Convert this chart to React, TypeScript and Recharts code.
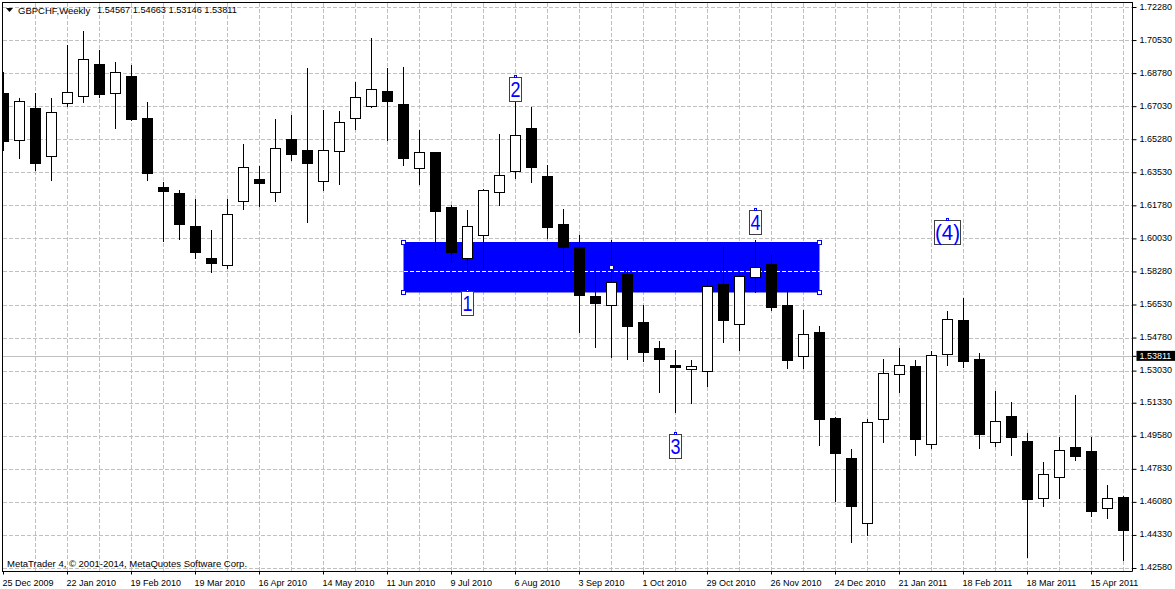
import { Bar, CartesianGrid, ComposedChart, ReferenceArea, ReferenceDot, ReferenceLine, XAxis, YAxis } from 'recharts'

// weekly GBPCHF candles, one entry per week
const opens = [
  1.6773, 1.6524, 1.6695, 1.6439, 1.6720, 1.6757, 1.6928, 1.6773, 1.6863, 1.6642,
  1.6277, 1.6245, 1.6070, 1.5901, 1.5862, 1.6201, 1.6319, 1.6249, 1.6529, 1.6473,
  1.6307, 1.6466, 1.6640, 1.6704, 1.6783, 1.6716, 1.6376, 1.6462, 1.6171, 1.5899,
  1.6021, 1.6249, 1.6360, 1.6587, 1.6335, 1.6081, 1.5959, 1.5700, 1.5650, 1.5816,
  1.5562, 1.5424, 1.5334, 1.5312, 1.5299, 1.5763, 1.5548, 1.5799, 1.5869, 1.5652,
  1.5378, 1.5509, 1.5054, 1.4842, 1.4496, 1.5047, 1.5285, 1.5329, 1.4915, 1.5391,
  1.5571, 1.5365, 1.4925, 1.5063, 1.4930, 1.4629, 1.4740, 1.4899, 1.4878, 1.4574,
  1.4634,
]
const highs = [
  1.6891, 1.6752, 1.6778, 1.6752, 1.7032, 1.7106, 1.7006, 1.6942, 1.6928, 1.6730,
  1.6307, 1.6265, 1.6217, 1.6053, 1.6217, 1.6508, 1.6392, 1.6640, 1.6662, 1.6910,
  1.6688, 1.6683, 1.6838, 1.7069, 1.6910, 1.6917, 1.6584, 1.6462, 1.6187, 1.6160,
  1.6270, 1.6563, 1.6854, 1.6705, 1.6397, 1.6164, 1.6028, 1.5852, 1.6001, 1.5852,
  1.5657, 1.5465, 1.5417, 1.5365, 1.5795, 1.5964, 1.5828, 1.6001, 1.5922, 1.5735,
  1.5631, 1.5545, 1.5063, 1.4895, 1.5052, 1.5371, 1.5430, 1.5366, 1.5414, 1.5625,
  1.5694, 1.5402, 1.5202, 1.5142, 1.4978, 1.4826, 1.4955, 1.5181, 1.4955, 1.4704,
  1.4646,
]
const lows = [
  1.6473, 1.6427, 1.6367, 1.6310, 1.6702, 1.6723, 1.6749, 1.6585, 1.6630, 1.6310,
  1.5989, 1.5998, 1.5897, 1.5823, 1.5848, 1.6157, 1.6176, 1.6203, 1.6416, 1.6088,
  1.6257, 1.6289, 1.6580, 1.6697, 1.6526, 1.6390, 1.6293, 1.5943, 1.5878, 1.5828,
  1.5846, 1.6178, 1.6324, 1.6300, 1.6007, 1.5828, 1.5509, 1.5426, 1.5373, 1.5366,
  1.5355, 1.5188, 1.5086, 1.5130, 1.5220, 1.5452, 1.5414, 1.5717, 1.5622, 1.5315,
  1.5315, 1.4911, 1.4611, 1.4397, 1.4434, 1.4923, 1.5190, 1.4858, 1.4891, 1.5331,
  1.5320, 1.4891, 1.4902, 1.4854, 1.4314, 1.4584, 1.4627, 1.4831, 1.4535, 1.4521,
  1.4302,
]
const closes = [
  1.6516, 1.6730, 1.6400, 1.6672, 1.6778, 1.6953, 1.6765, 1.6884, 1.6633, 1.6347,
  1.6255, 1.6077, 1.5929, 1.5871, 1.6132, 1.6381, 1.6298, 1.6482, 1.6448, 1.6400,
  1.6471, 1.6619, 1.6752, 1.6794, 1.6728, 1.6427, 1.6460, 1.6146, 1.5929, 1.6069,
  1.6259, 1.6339, 1.6550, 1.6379, 1.6061, 1.5955, 1.5701, 1.5659, 1.5772, 1.5537,
  1.5400, 1.5362, 1.5324, 1.5328, 1.5751, 1.5569, 1.5804, 1.5852, 1.5638, 1.5357,
  1.5497, 1.5045, 1.4865, 1.4584, 1.5031, 1.5290, 1.5333, 1.4939, 1.5386, 1.5576,
  1.5352, 1.4965, 1.5036, 1.4950, 1.4621, 1.4756, 1.4883, 1.4849, 1.4558, 1.4629,
  1.4457,
]

const dateLabels = [
  '25 Dec 2009', '22 Jan 2010', '19 Feb 2010', '19 Mar 2010', '16 Apr 2010', '14 May 2010',
  '11 Jun 2010', '9 Jul 2010', '6 Aug 2010', '3 Sep 2010', '1 Oct 2010', '29 Oct 2010',
  '26 Nov 2010', '24 Dec 2010', '21 Jan 2011', '18 Feb 2011', '18 Mar 2011', '15 Apr 2011',
]
const priceTicks = [
  1.7228, 1.7053, 1.6878, 1.6703, 1.6528, 1.6353, 1.6178, 1.6003, 1.5828,
  1.5653, 1.5478, 1.5303, 1.5133, 1.4958, 1.4783, 1.4608, 1.4433, 1.4258,
]
const lastPrice = 1.53811

// the drawn zone and the wave labels
const zoneWeeks = [25, 51]
const zonePrices = [1.5719, 1.5986]
const waveLabels = ['1', '2', '3', '4', '(4)']
const waveWeeks = [29, 32, 42, 47, 59]
const wavePrices = [1.5725, 1.6857, 1.4968, 1.6153, 1.61]

const candles = opens.map((open, i) => ({
  week: i,
  open,
  high: highs[i],
  low: lows[i],
  close: closes[i],
}))

const dateTicks = dateLabels.map((_, i) => i * 4)
const gridWeeks = Array.from({ length: 35 }, (_, i) => (i + 1) * 2)

const FONT = '"Liberation Sans", Arial, sans-serif'
const GRID = '#c0c0c0'
const snap = (v: number) => Math.round(v - 0.5) + 0.5

function Candle(props: any) {
  const { x, y, width, height, payload } = props
  const { open, high, low, close } = payload
  const cx = snap(x + width / 2)
  const perPrice = height / (high - low)
  const top = snap(y + (high - Math.max(open, close)) * perPrice)
  const bottom = snap(y + (high - Math.min(open, close)) * perPrice)
  const up = close >= open
  return (
    <g shapeRendering="crispEdges">
      <line x1={cx} x2={cx} y1={snap(y)} y2={snap(y + height)} stroke="#000" />
      <rect x={cx - 5} y={top} width={10} height={Math.max(bottom - top, 1)} fill={up ? '#fff' : '#000'} stroke="#000" />
    </g>
  )
}

function WaveLabel(props: any) {
  const { cx, cy, text } = props
  const wide = text.length > 1
  const w = wide ? 26 : 12
  const top = snap(cy)
  return (
    <g>
      <rect x={snap(cx) - w / 2} y={top} width={w} height={24} fill="#fff" stroke="#404040" shapeRendering="crispEdges" />
      <rect x={snap(cx) - 1.5} y={top - 2} width={2} height={2} fill="#fff" stroke="#0000ff" shapeRendering="crispEdges" />
      <text
        x={cx}
        y={top + 19.5}
        textAnchor="middle"
        fontFamily={FONT}
        fontSize={22}
        fill="#0000ff"
        textLength={wide ? 25 : 10}
        lengthAdjust="spacingAndGlyphs"
      >
        {text}
      </text>
    </g>
  )
}

function Handle(props: any) {
  const { cx, cy } = props
  return <rect x={snap(cx) - 2} y={snap(cy) - 2} width={4} height={4} fill="#fff" stroke="#0000ff" shapeRendering="crispEdges" />
}

function Speck(props: any) {
  const { cx, cy } = props
  return <rect x={snap(cx) - 1.5} y={snap(cy) - 1.5} width={3} height={3} fill="#fff" shapeRendering="crispEdges" />
}

function DateTick(props: any) {
  const { x, y, payload } = props
  return (
    <text x={x - 1} y={y + 9} fontFamily={FONT} fontSize={9} fill="#000">
      {dateLabels[payload.value / 4]}
    </text>
  )
}

function PriceTick(props: any) {
  const { x, y, payload } = props
  if (payload.value === lastPrice) {
    return (
      <g>
        <rect x={x - 2} y={y - 5.5} width={41} height={10} fill="#000" />
        <text x={x + 1} y={y + 2.5} fontFamily={FONT} fontSize={9} fill="#fff">{lastPrice.toFixed(5)}</text>
      </g>
    )
  }
  return (
    <text x={x + 1} y={y + 2} fontFamily={FONT} fontSize={9} fill="#000">{payload.value.toFixed(5)}</text>
  )
}

export default function App() {
  return (
    <div style={{ position: 'absolute', left: 0, top: 0, width: 1175, height: 589, background: '#fff', overflow: 'hidden' }}>
      <ComposedChart
        width={1175}
        height={589}
        data={candles}
        margin={{ top: 2.5, right: 0, bottom: 0, left: 2.5 }}
      >
        <CartesianGrid
          stroke={GRID}
          strokeDasharray="4 2"
          shapeRendering="crispEdges"
          horizontalValues={priceTicks}
          verticalValues={gridWeeks}
        />
        <CartesianGrid stroke={GRID} vertical={false} shapeRendering="crispEdges" horizontalValues={[lastPrice]} />
        <XAxis
          dataKey="week"
          type="number"
          domain={[-0.0625, 70.5625]}
          allowDataOverflow
          ticks={dateTicks}
          interval={0}
          height={17.5}
          tick={<DateTick />}
          tickSize={3}
          stroke="#000"
        />
        <YAxis
          type="number"
          orientation="right"
          domain={[1.42421, 1.72545]}
          allowDataOverflow
          ticks={[...priceTicks, lastPrice]}
          interval={0}
          width={42.5}
          tick={<PriceTick />}
          tickSize={4}
          stroke="#000"
        />
        <ReferenceArea x1={zoneWeeks[0]} x2={zoneWeeks[1]} y1={zonePrices[0]} y2={zonePrices[1]} fill="#0000ff" fillOpacity={1} stroke="none" />
        <ReferenceLine
          segment={[{ x: zoneWeeks[0], y: priceTicks[8] }, { x: zoneWeeks[1], y: priceTicks[8] }]}
          stroke="#fff"
          strokeDasharray="4 2"
          shapeRendering="crispEdges"
          zIndex={200}
        />
        <Bar dataKey={(d: any) => [d.low, d.high]} barSize={11} shape={<Candle />} isAnimationActive={false} />
        <ReferenceDot x={38} y={1.5852} shape={<Speck />} />
        {zoneWeeks.flatMap((week) =>
          zonePrices.map((price) => (
            <ReferenceDot key={`${week}-${price}`} x={week} y={price} shape={<Handle />} />
          )),
        )}
        {waveLabels.map((text, i) => (
          <ReferenceDot
            key={text}
            x={waveWeeks[i]}
            y={wavePrices[i]}
            shape={(p: any) => <WaveLabel {...p} text={text} />}
          />
        ))}
      </ComposedChart>

      {/* frame top and left, the axes only draw bottom and right */}
      <div style={{ position: 'absolute', left: 2, top: 2, width: 1130, height: 569, borderLeft: '1px solid #000', borderTop: '1px solid #000', pointerEvents: 'none' }} />

      <svg width={14} height={10} style={{ position: 'absolute', left: 5, top: 5 }}>
        <polygon points="1,3 8,3 4.5,7" fill="#000" />
      </svg>
      <div style={{ position: 'absolute', left: 18, top: 5, font: `9.5px ${FONT}`, color: '#000', whiteSpace: 'pre', lineHeight: '11px' }}>
        GBPCHF,Weekly
      </div>
      <div style={{ position: 'absolute', left: 97, top: 5, font: `9.2px ${FONT}`, color: '#000', whiteSpace: 'pre', lineHeight: '11px' }}>
        1.54567 1.54663 1.53146 1.53811
      </div>
      <div style={{ position: 'absolute', left: 7, top: 558, font: `9.5px ${FONT}`, color: '#000', whiteSpace: 'pre', lineHeight: '11px' }}>
        MetaTrader 4, © 2001-2014, MetaQuotes Software Corp.
      </div>
    </div>
  )
}
